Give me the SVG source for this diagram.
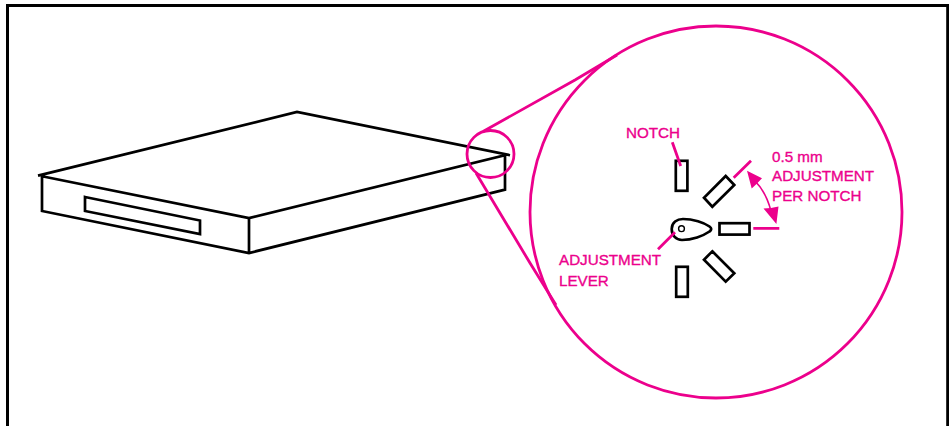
<svg xmlns="http://www.w3.org/2000/svg" width="949" height="426" viewBox="0 0 949 426">
<style>
.k{fill:none;stroke:#000;stroke-width:2.7;stroke-linejoin:miter}
.n{fill:#fff;stroke:#000;stroke-width:2.7}
.m{fill:none;stroke:#ec008c;stroke-width:2.8}
.s{fill:none;stroke:#ec008c;stroke-width:1.6}
.a{fill:#ec008c;stroke:none}
text{font-family:"Liberation Sans",Arial,sans-serif;font-size:15.2px;fill:#ec008c;stroke:#ec008c;stroke-width:.35px}
</style>
<rect width="949" height="426" fill="#fff"/>
<path id="frame" d="M7.5 426V5.5H947.7V426" fill="none" stroke="#000" stroke-width="3"/>
<g id="device">
<path class="k" d="M38 175.6 297 112 510 155.2M42 176.2 249 218 505 155.2V189.6L249 253 42 211V176.2M249 218V253"/>
<path class="k" d="M85 197 200 220.5V234L85 211Z"/>
</g>
<g id="callout">
<circle class="m" cx="490.5" cy="154" r="23.5"/>
<path class="m" d="M483 131.5 575 80 617 55M476 173 530 263 556 305"/>
<circle class="m" cx="716" cy="212" r="186"/>
</g>
<g id="notches">
<rect id="notch-1" class="n" x="675.8" y="160.8" width="11.6" height="30"/>
<rect id="notch-2" class="n" x="676.2" y="266.8" width="11.6" height="30"/>
<rect id="notch-3" class="n" x="719.5" y="223.2" width="30" height="11.4"/>
<path id="notch-4" class="n" d="M725.7 176 734.3 185 712.3 206.7 704 197.7Z"/>
<path id="notch-5" class="n" d="M712.3 251.3 734.3 273.3 725.7 281.7 704 259.7Z"/>
</g>
<g id="lever">
<path class="n" d="M671.7 229C671.7 222.5 677 219 683 219 693 219 704 222.5 709.5 226.5 711.8 228.2 711.8 230 709.5 231.5 703 236 692 240 682 240 676 240 671.7 235.5 671.7 229Z"/>
<circle cx="681.5" cy="228.7" r="2.9" fill="#fff" stroke="#000" stroke-width="1.4"/>
</g>
<g id="connectors">
<path class="m" d="M672.3 142.3 680.7 166M658 249.3 675 232.3M733.7 177.7 751 160.7M753.3 228.3H779.3"/>
<path class="s" d="M755 181Q766 192 771 211"/>
<path class="a" d="M747 170.8 762 178.3 757 183.5 751.7 188.5ZM776.4 224 763.5 208.5 771 208 778.5 206.5Z"/>
</g>
<g id="labels">
<text x="626" y="138">NOTCH</text>
<text x="772" y="162">0.5 mm</text>
<text x="772" y="181">ADJUSTMENT</text>
<text x="772" y="201">PER NOTCH</text>
<text x="559" y="265">ADJUSTMENT</text>
<text x="559" y="286">LEVER</text>
</g>
</svg>
